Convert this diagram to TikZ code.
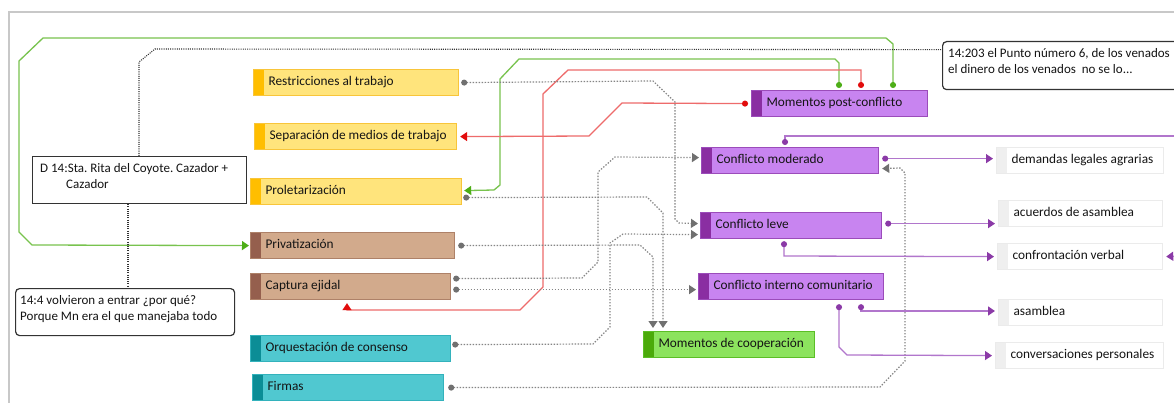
\documentclass[tikz,border=0pt]{standalone}
\usepackage{fontspec}
\setmainfont{Carlito}
\usetikzlibrary{arrows.meta,calc}
\definecolor{ylwF}{HTML}{FFE47C}
\definecolor{ylwD}{HTML}{F8C53A}
\definecolor{ylwS}{HTML}{FFBE00}
\definecolor{brnF}{HTML}{D2AA8C}
\definecolor{brnD}{HTML}{AE8168}
\definecolor{brnS}{HTML}{955F4D}
\definecolor{teaF}{HTML}{50C8D0}
\definecolor{teaD}{HTML}{33B2BC}
\definecolor{teaS}{HTML}{0B8D96}
\definecolor{purF}{HTML}{C884F0}
\definecolor{purD}{HTML}{9B4CBA}
\definecolor{purS}{HTML}{8A2EA2}
\definecolor{grnF}{HTML}{8CE35E}
\definecolor{grnB}{HTML}{5BBE26}
\definecolor{grnS}{HTML}{4BAA0A}
\definecolor{whtD}{HTML}{EBEBEB}
\definecolor{whtS}{HTML}{EFEFEF}
\definecolor{lnG}{HTML}{78C34E}
\definecolor{tipG}{HTML}{4DAE17}
\definecolor{lnR}{HTML}{EE6B6B}
\definecolor{tipR}{HTML}{E20C0C}
\definecolor{lnP}{HTML}{B176CC}
\definecolor{tipP}{HTML}{8B3AA7}
\definecolor{lnK}{HTML}{858585}
\definecolor{tipK}{HTML}{707070}
\definecolor{lnB}{HTML}{333333}
\definecolor{frameC}{HTML}{C8C8C8}
\definecolor{txtC}{HTML}{141414}
\definecolor{cmtD}{HTML}{333333}
\newcommand\boxtxt[2]{\makebox[#1][l]{\hspace*{15pt}#2}}
\frenchspacing
\begin{document}
\begin{tikzpicture}[x=1pt,y=-1pt,
  every node/.style={font=\fontsize{13.3}{16}\selectfont, text=txtC},
  cbox/.style args={#1/#2/#3}{rectangle, draw=#2, fill=#1, line width=1.2pt,
    inner sep=0pt, minimum height=26pt, text height=9.5pt, text depth=3pt,
    anchor=north west,
    path picture={\fill[#3] (path picture bounding box.north west) rectangle
      ([xshift=10.5pt]path picture bounding box.south west);}},
  cmt/.style={rectangle, draw=cmtD, fill=white, line width=1.2pt,
    rounded corners=4pt, inner sep=0pt, anchor=north west},
  cmttxt/.style={inner sep=0pt, anchor=base west, font=\fontsize{13}{16}\selectfont\frenchspacing},
  gC/.style={draw=lnG, line width=1.3pt,
    arrows={Circle[length=6pt,color=tipG]-Triangle[length=7pt,width=9pt,color=tipG]}},
  rC/.style={draw=lnR, line width=1.3pt,
    arrows={Circle[length=6pt,color=tipR]-Triangle[length=7pt,width=9pt,color=tipR]}},
  pC/.style={draw=lnP, line width=1.3pt,
    arrows={Circle[length=6pt,color=tipP]-Triangle[length=7pt,width=9pt,color=tipP]}},
  kC/.style={draw=lnK, line width=1.2pt, dash pattern=on 1.4pt off 1.6pt,
    arrows={Circle[length=6pt,color=tipK]-Triangle[length=7pt,width=9pt,color=tipK]}},
  bC/.style={draw=lnB, line width=1.1pt, dash pattern=on 1pt off 1.2pt},
]
\clip (0,0) rectangle (1174,403);
\useasboundingbox (0,0) rectangle (1174,403);
\fill[white] (0,0) rectangle (1174,403);
\draw[frameC, line width=2pt] (9,404) -- (9,12) -- (1175,12);

% code nodes
\node[cbox=ylwF/ylwD/ylwS] (restr) at (253,69) {\boxtxt{205pt}{Restricciones al trabajo}};
\node[cbox=ylwF/ylwD/ylwS] (sep) at (254,123) {\boxtxt{202pt}{Separación de medios de trabajo}};
\node[cbox=ylwF/ylwD/ylwS] (prol) at (250,178) {\boxtxt{211pt}{Proletarización}};
\node[cbox=brnF/brnD/brnS] (priv) at (250,232) {\boxtxt{204pt}{Privatización}};
\node[cbox=brnF/brnD/brnS] (cap) at (250,273) {\boxtxt{200pt}{Captura ejidal}};
\node[cbox=teaF/teaD/teaS] (orq) at (250,335) {\boxtxt{200pt}{Orquestación de consenso}};
\node[cbox=teaF/teaD/teaS] (firm) at (252,374) {\boxtxt{191pt}{Firmas}};
\node[cbox=purF/purD/purS] (mpc) at (751,90) {\boxtxt{176pt}{Momentos post-conflicto}};
\node[cbox=purF/purD/purS] (mod) at (701,147) {\boxtxt{177pt}{Conflicto moderado}};
\node[cbox=purF/purD/purS] (leve) at (700,212) {\boxtxt{181pt}{Conflicto leve}};
\node[cbox=purF/purD/purS] (cic) at (698,273) {\boxtxt{185pt}{Conflicto interno comunitario}};
\node[cbox=grnF/grnB/grnS] (coop) at (643,331) {\boxtxt{171pt}{Momentos de cooperación}};
\node[cbox=white/whtD/whtS] (dem) at (996,147) {\boxtxt{167pt}{demandas legales agrarias}};
\node[cbox=white/whtD/whtS] (acu) at (998,200) {\boxtxt{164pt}{acuerdos de asamblea}};
\node[cbox=white/whtD/whtS] (conf) at (997,243) {\boxtxt{165pt}{confrontación verbal}};
\node[cbox=white/whtD/whtS] (asam) at (998,299) {\boxtxt{164pt}{asamblea}};
\node[cbox=white/whtD/whtS] (conv) at (995,342) {\boxtxt{168pt}{conversaciones personales}};

% comments
\node[cmt, sharp corners, minimum width=214pt, minimum height=47pt] (d14) at (32,156) {};
\node[cmttxt] (d14t) at (40,173) {\begin{tabular}[t]{@{}l@{}}D 14:Sta. Rita del Coyote. Cazador +\\\hspace*{26pt}Cazador\end{tabular}};
\node[cmt, minimum width=219pt, minimum height=47pt] (c144) at (15,288) {};
\node[cmttxt] (c144t) at (20,304) {\begin{tabular}[t]{@{}l@{}}14:4 volvieron a entrar ¿por qué?\\Porque Mn era el que manejaba todo\end{tabular}};
\node[cmt, minimum width=250pt, minimum height=48pt] (c203) at (942,41) {};
\node[cmttxt] (c203t) at (948,58) {\begin{tabular}[t]{@{}l@{}}14:203 el Punto número 6, de los venados\\el dinero de los venados\ \ no se lo...\end{tabular}};

\coordinate (offR1) at (1180,136);
\coordinate (offR2) at (1180,256);

% green
\draw[gC] ([shift={(142pt,2pt)}]mpc.north west) -- (893,44) -- (886,38) -- (43,38)
  -- (19,61) -- (19,232) -- (32,245) -- ([xshift=-1pt]priv.west);
\draw[gC] ([shift={(88pt,2pt)}]mpc.north west) -- (839,63) -- (835,59) -- (519,59)
  -- (500,79) -- (500,185) -- (494,190) -- ([shift={(2pt,1pt)}]prol.east);
% red
\draw[rC] ([shift={(110pt,2pt)}]mpc.north west) -- (861,70) -- (568,70) -- (543,94)
  -- (543,287) -- (520,310) -- (347,310) -- ([shift={(97pt,-3pt)}]cap.south west);
\draw[rC] ([xshift=-3pt]mpc.west) -- (622,103) -- (589,136) -- ([xshift=3pt]sep.east);
% gray dotted
\draw[kC] ([xshift=2pt]restr.east) -- (653,81) -- (675,102) -- (675,219) -- (679,223)
  -- ([shift={(-2pt,2pt)}]leve.west);
\draw[kC] ([shift={(1pt,-6pt)}]prol.east) -- (647,197) -- (663,213)
  -- ([shift={(20pt,3pt)}]coop.north west);
\draw[kC] ([xshift=3pt]priv.east) -- (640,245) -- (653,257)
  -- ([shift={(10pt,3pt)}]coop.north west);
\draw[kC] ([shift={(2pt,8pt)}]cap.east) -- (582,278) -- (598,262) -- (598,172)
  -- (615,157) -- ([shift={(-2pt,3pt)}]mod.west);
\draw[kC] ([shift={(2pt,-3pt)}]cap.east) -- ([shift={(-2pt,-3pt)}]cic.west);
\draw[kC] ([shift={(1pt,4pt)}]orq.east) -- (593,344) -- (610,327) -- (610,243)
  -- (623,234) -- ([shift={(-2pt,-9pt)}]leve.west);
\draw[kC] ([xshift=4pt]firm.east) -- (880,387) -- (905,361) -- (905,173) -- (900,168)
  -- ([shift={(3pt,-8pt)}]mod.east);
% purple
\draw[pC] ([shift={(3pt,2pt)}]mod.east) -- ([shift={(-3pt,2pt)}]dem.west);
\draw[pC, arrows={Circle[length=6pt,color=tipP]-}] ([shift={(84pt,2pt)}]mod.north west)
  -- (785,136) -- (offR1);
\draw[pC] ([shift={(3pt,2pt)}]leve.east) -- ([shift={(-3pt,-10pt)}]acu.west);
\draw[pC] ([shift={(84pt,-2pt)}]leve.south west) -- (784,256) -- ([xshift=-3pt]conf.west);
\draw[pC] ([shift={(141pt,-4pt)}]cic.south west) -- (839,347) -- (847,355)
  -- ([xshift=-3pt]conv.west);
\draw[pC] ([shift={(163pt,-4pt)}]cic.south west) -- (861,311) -- ([xshift=-3pt]asam.west |- 0,311);
\draw[pC, arrows={-Triangle[length=7pt,width=9pt,color=tipP]}] (offR2) -- ([xshift=3pt]conf.east);
% comment links
\draw[bC] ([xshift=107pt]d14.north west) -- (139,62) -- (155,49) -- ([yshift=16pt]c203.west);
\draw[bC] ([xshift=96pt]d14.south west) -- ([xshift=113pt]c144.north west);
\end{tikzpicture}
\end{document}
